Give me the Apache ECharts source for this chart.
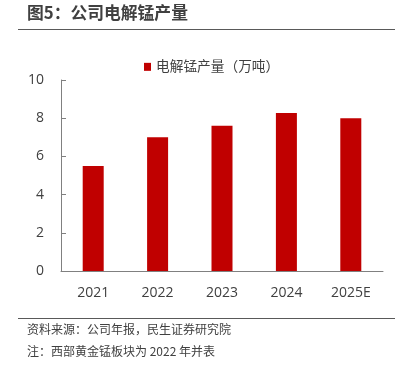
<!DOCTYPE html>
<html><head><meta charset="utf-8">
<script src="https://cdn.jsdelivr.net/npm/echarts@6/dist/echarts.min.js"></script>
<style>html,body{margin:0;padding:0;background:#fff}#c{width:409px;height:371px}</style>
</head><body><div id="c"></div>
<script>
const categories = ['2021', '2022', '2023', '2024', '2025E'];
const production = [5.5, 7.0, 7.6, 8.27, 8.0];
const seriesName = '电解锰产量（万吨）';
const titleText = '图5：公司电解锰产量';
const sourceText = '资料来源：公司年报，民生证券研究院';
const noteText = '注：西部黄金锰板块为 2022 年并表';

const FONT = '"Open Sans", "Noto Sans CJK SC", sans-serif';
const chart = echarts.init(document.getElementById('c'), null, {renderer: 'canvas'});
chart.setOption({
  animation: false,
  backgroundColor: '#fff',
  textStyle: {fontFamily: FONT},
  legend: {
    top: 55, left: 139,
    itemWidth: 7, itemHeight: 8, itemGap: 5,
    icon: 'rect',
    textStyle: {fontSize: 13.7, color: '#404040', fontFamily: FONT},
    data: [seriesName]
  },
  grid: {left: 61, right: 26, top: 80, bottom: 100},
  xAxis: {
    type: 'category', data: categories,
    axisLine: {lineStyle: {color: '#808080', width: 1}},
    axisTick: {show: false},
    axisLabel: {fontSize: 14, color: '#404040', margin: 15, fontFamily: FONT}
  },
  yAxis: {
    type: 'value', min: 0, max: 10, interval: 2,
    axisLine: {show: true, lineStyle: {color: '#808080', width: 1}},
    axisTick: {show: true, inside: true, length: 5, lineStyle: {color: '#808080'}},
    splitLine: {show: false},
    axisLabel: {fontSize: 14, color: '#404040', margin: 17, fontFamily: FONT}
  },
  series: [{
    name: seriesName, type: 'bar', data: production,
    barWidth: 21,
    itemStyle: {color: '#C00000'}
  }],
  graphic: [
    {type: 'text', left: 27, top: 4, style: {text: titleText, font: 'bold 16.8px "Noto Sans CJK SC", sans-serif', fill: '#404040'}},
    {type: 'line', shape: {x1: 18, y1: 29.5, x2: 395, y2: 29.5}, style: {stroke: '#595959', lineWidth: 1}},
    {type: 'line', shape: {x1: 18, y1: 318.5, x2: 395, y2: 318.5}, style: {stroke: '#595959', lineWidth: 1}},
    {type: 'text', left: 27, top: 323, style: {text: sourceText, font: '12px "Noto Sans CJK SC", sans-serif', fill: '#404040'}},
    {type: 'text', left: 27, top: 345, style: {text: noteText, font: '12px "Noto Sans CJK SC", sans-serif', fill: '#404040'}}
  ]
});
</script></body></html>
